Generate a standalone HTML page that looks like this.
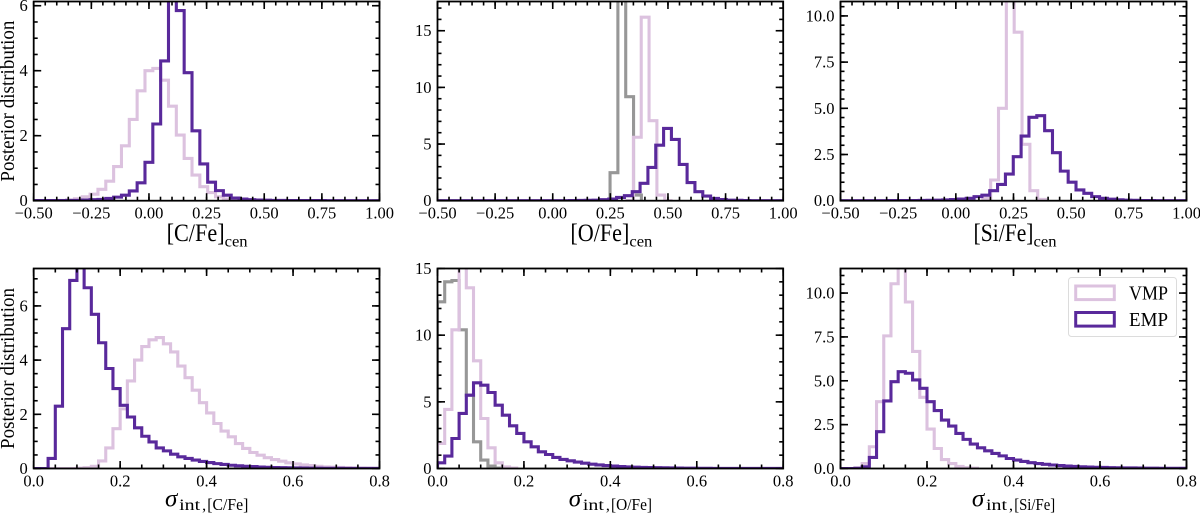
<!DOCTYPE html>
<html>
<head>
<meta charset="utf-8">
<title>Posterior distributions</title>
<style>
html,body{margin:0;padding:0;background:#fff;}
svg{display:block;filter:blur(0.35px);}
text{font-family:"Liberation Serif","DejaVu Serif",serif;fill:#000;}
</style>
</head>
<body>
<svg id="chart" xmlns="http://www.w3.org/2000/svg" width="1200" height="515" viewBox="0 0 1200 515"></svg>
<script>
// ---- tick values and labels ----
const cenXTicks = [-0.5, -0.25, 0, 0.25, 0.5, 0.75, 1.0];
const cenXLabels = ["\u22120.50", "\u22120.25", "0.00", "0.25", "0.50", "0.75", "1.00"];
const cenXMinorStep = 0.05;
const sigXTicks = [0, 0.2, 0.4, 0.6, 0.8];
const sigXLabels = ["0.0", "0.2", "0.4", "0.6", "0.8"];
const sigXMinorStep = 0.05;

// ---- histogram bins ----
const cenBinStart = -0.4933;
const cenBinWidth = 0.034;
const sigBinStart = 0;
const sigBinWidth = 0.016667;

// ---- [C/Fe]cen ----
const cCenVmp = [0,0,0,0.01,0.02,0.06,0.12,0.2,0.35,0.6,1.05,1.69,2.5,3.38,4.0,4.07,3.71,2.91,2.02,1.3,0.79,0.43,0.25,0.12,0.05,0.02,0.01];
const cCenEmp = [0.003,0.003,0.005,0.005,0.008,0.01,0.02,0.03,0.04,0.07,0.11,0.17,0.3,0.55,1.18,2.36,4.3,6.4,5.85,3.94,2.15,1.13,0.57,0.31,0.17,0.08,0.05,0.03,0.02,0.015,0.01,0.008,0.006,0.005,0.004,0.003,0.003,0.002,0.002,0.002,0.002,0.002,0.002,0.002];

// ---- [O/Fe]cen ----
const oCenGrayStart = 0.2487;
const oCenGray = [2.47,19,9.18,0.5];
const oCenVmpStart = 0.316;
const oCenVmp = [0,5.6,16.2,7.06,0.5,0];
const oCenEmpStart = -0.505;
const oCenEmp = [0.002,0.002,0.002,0.002,0.002,0.002,0.002,0.002,0.002,0.002,0.002,0.002,0.002,0.003,0.004,0.005,0.007,0.01,0.02,0.03,0.05,0.09,0.15,0.29,0.44,0.8,1.53,2.94,4.9,6.38,5.41,3.2,1.6,0.8,0.41,0.2,0.1,0.05,0.03,0.01,0.005,0.003,0.002,0.002,0.002];

// ---- [Si/Fe]cen ----
const siCenVmpStart = 0.117;
const siCenVmp = [0.12,1.12,5.0,11.8,9.12,3.05,0.54,0.07];
const siCenEmpStart = -0.499;
const siCenEmp = [0.002,0.002,0.003,0.003,0.004,0.004,0.005,0.006,0.008,0.01,0.015,0.02,0.03,0.04,0.06,0.09,0.13,0.22,0.3,0.54,0.88,1.44,2.38,3.5,4.51,4.6,3.79,2.6,1.6,1,0.58,0.4,0.22,0.13,0.08,0.05,0.03,0.02,0.01,0.005,0.004,0.003,0.003,0.002];

// ---- sigma [C/Fe] ----
const cSigVmp = [0,0,0,0,0,0,0.01,0.03,0.08,0.28,0.76,1.47,2.2,3.23,4.0,4.5,4.75,4.83,4.6,4.3,3.78,3.35,2.89,2.43,2.05,1.66,1.38,1.17,0.92,0.74,0.59,0.49,0.4,0.33,0.27,0.21,0.17,0.13,0.11,0.08,0.06,0.05,0.04,0.03,0.02,0.015,0.01,0.005];
const cSigEmp = [0,0,0.37,2.3,5.16,6.94,7.6,6.67,5.69,4.64,3.69,2.95,2.33,1.9,1.5,1.19,0.98,0.76,0.65,0.53,0.43,0.37,0.31,0.26,0.22,0.18,0.15,0.12,0.1,0.08,0.07,0.055,0.045,0.035,0.03,0.025,0.02,0.015,0.012,0.01,0.008,0.006,0.005,0.004,0.003,0.002,0.002,0.001];

// ---- sigma [O/Fe] ----
const oSigGray = [12.5,14,14.1,10.4,5.5,2,0.63,0.18,0.03];
const oSigVmp = [1.88,4.43,10.4,16.5,13.55,8.08,3.75,1.55,0.43,0.12,0.03];
const oSigEmp = [0.43,0.93,2.25,4.13,5.5,6.43,6.25,5.7,4.75,4.0,3.2,2.63,2.0,1.63,1.25,1.05,0.83,0.68,0.58,0.48,0.4,0.32,0.27,0.22,0.18,0.15,0.12,0.1,0.08,0.07,0.06,0.05,0.04,0.03,0.025,0.02,0.015,0.012,0.01,0.008,0.006,0.005,0.004,0.003,0.002,0.002,0.002,0.002];

// ---- sigma [Si/Fe] ----
const siSigVmp = [0,0,0.03,0.28,1.24,3.81,7.56,10.53,12.5,9.49,6.67,4.06,2.25,1.14,0.51,0.28,0.12,0.05,0.02];
const siSigEmp = [0,0,0.01,0.1,0.63,2.1,3.85,4.95,5.52,5.43,5.05,4.57,3.81,3.3,2.76,2.42,2.0,1.66,1.39,1.18,1.01,0.86,0.72,0.57,0.48,0.4,0.33,0.28,0.24,0.2,0.17,0.14,0.12,0.1,0.085,0.07,0.06,0.05,0.04,0.035,0.03,0.025,0.02,0.018,0.015,0.012,0.01,0.008];

// ---- y axis ticks ----
const cCenYTicks = [0,2,4,6];
const cCenYLabels = ["0","2","4","6"];
const oCenYTicks = [0,5,10,15];
const oCenYLabels = ["0","5","10","15"];
const siCenYTicks = [0,2.5,5,7.5,10];
const siCenYLabels = ["0.0","2.5","5.0","7.5","10.0"];
const cSigYTicks = [0,2,4,6];
const cSigYLabels = ["0","2","4","6"];
const oSigYTicks = [0,5,10,15];
const oSigYLabels = ["0","5","10","15"];
const siSigYTicks = [0,2.5,5,7.5,10];
const siSigYLabels = ["0.0","2.5","5.0","7.5","10.0"];

// ---- styling ----
const VMP_COLOR = "#dcc2df";
const EMP_COLOR = "#59299b";
const GRAY_COLOR = "#979797";
const LINE_W = 3.1;

const NS = "http://www.w3.org/2000/svg";
const svg = document.getElementById("chart");

function el(tag, attrs, parent) {
  const e = document.createElementNS(NS, tag);
  for (const k in attrs) e.setAttribute(k, attrs[k]);
  (parent || svg).appendChild(e);
  return e;
}

function addText(parent, str, x, y, size, anchor, extra) {
  const t = el("text", Object.assign({x: x, y: y, "font-size": size, "text-anchor": anchor || "start"}, extra || {}), parent);
  t.textContent = str;
  return t;
}

function drawPanel(cfg) {
  const L = cfg.left, R = cfg.right, T = cfg.top, B = cfg.bottom;
  const xScale = v => L + (v - cfg.xMin) / (cfg.xMax - cfg.xMin) * (R - L);
  const yScale = v => B - v / cfg.yMax * (B - T);

  const g = el("g", {});
  
  

  const clipId = "clip-" + cfg.name;
  const defs = el("defs", {}, g);
  const cp = el("clipPath", {id: clipId}, defs);
  el("rect", {x: L, y: T, width: R - L, height: B - T}, cp);

  const plot = el("g", {"clip-path": "url(#" + clipId + ")"}, g);
  
  

  cfg.series.forEach(s => {
    let d = "M" + xScale(s.start).toFixed(2) + " " + yScale(0).toFixed(2);
    s.values.forEach((v, i) => {
      const x0 = xScale(s.start + i * s.width);
      const x1 = xScale(s.start + (i + 1) * s.width);
      const y = yScale(v);
      d += "L" + x0.toFixed(2) + " " + y.toFixed(2) + "L" + x1.toFixed(2) + " " + y.toFixed(2);
    });
    d += "L" + xScale(s.start + s.values.length * s.width).toFixed(2) + " " + yScale(0).toFixed(2);
    const p = el("path", {d: d, fill: "none", stroke: s.color, "stroke-width": LINE_W, "stroke-linejoin": "miter"}, plot);
    
    
  });

  const ticks = el("g", {stroke: "#000"}, g);
  
  

  const MAJ = 7.5, MIN = 4, TW = 1.6;
  const vTick = (x, len) => {
    el("line", {x1: x, x2: x, y1: B, y2: B - len, "stroke-width": TW}, ticks);
    el("line", {x1: x, x2: x, y1: T, y2: T + len, "stroke-width": TW}, ticks);
  };
  const hTick = (y, len) => {
    el("line", {x1: L, x2: L + len, y1: y, y2: y, "stroke-width": TW}, ticks);
    el("line", {x1: R, x2: R - len, y1: y, y2: y, "stroke-width": TW}, ticks);
  };

  const nx = Math.round((cfg.xMax - cfg.xMin) / cfg.xMinor);
  for (let i = 0; i <= nx; i++) vTick(xScale(cfg.xMin + i * cfg.xMinor), MIN);
  const ny = Math.floor(cfg.yMax / cfg.yMinor + 1e-6);
  for (let i = 0; i <= ny; i++) hTick(yScale(i * cfg.yMinor), MIN);
  cfg.xTicks.forEach(v => vTick(xScale(v), MAJ));
  cfg.yTicks.forEach(v => hTick(yScale(v), MAJ));

  const frame = el("rect", {x: L, y: T, width: R - L, height: B - T, fill: "none", stroke: "#000", "stroke-width": 1.8}, g);
  
  

  cfg.xTicks.forEach((v, i) => {
    const t = addText(g, cfg.xLabels[i], xScale(v), B + 18, 16.5, "middle");
    
    
  });
  cfg.yTicks.forEach((v, i) => {
    const t = addText(g, cfg.yLabels[i], L - 6, yScale(v) + 5.5, 16.5, "end");
    
    
  });

  const cx = (L + R) / 2;
  if (cfg.cenLabel) {
    const a = addText(g, cfg.cenLabel, cx - 40, B + 40.5, 25, "start", {textLength: cfg.cenLen, lengthAdjust: "spacingAndGlyphs"});
    
    
    const s = addText(g, "cen", cx - 40 + cfg.cenLen, B + 46, 16, "start", {textLength: 23, lengthAdjust: "spacingAndGlyphs"});
    
    
  } else {
    const a = addText(g, "\u03C3", cx - 41.6, B + 38, 25, "start", {"font-style": "italic"});
    
    
    const s = addText(g, "int", cx - 27.5, B + 41.5, 16, "start", {textLength: 21, lengthAdjust: "spacingAndGlyphs"});
    
    
    const c = addText(g, ",", cx - 4.5, B + 41.5, 16, "start");
    
    
    const e = addText(g, cfg.sigLabel, cx + 0.7, B + 41.5, 17, "start", {textLength: 41, lengthAdjust: "spacingAndGlyphs"});
    
    
  }
  if (cfg.yTitle) {
    const my = (T + B) / 2;
    const t = addText(g, "Posterior distribution", 14, my, 20, "middle", {transform: "rotate(-90 14 " + my + ")", textLength: 161, lengthAdjust: "spacingAndGlyphs"});
    
    
  }
}

const COL_L = [33.7, 437.5, 840.5];
const COL_R = [379.5, 783.2, 1186.5];
const ROW_T = [1.5, 268.5];
const ROW_B = [200.7, 468.5];

function cenSeries(name, color, start, values) { return {name: name, color: color, start: start, width: cenBinWidth, values: values}; }
function sigSeries(name, color, values) { return {name: name, color: color, start: sigBinStart, width: sigBinWidth, values: values}; }

function cenPanel(col, name, yMax, yMinor, yTicks, yLabels, label, len, series) {
  drawPanel({name: name, left: COL_L[col], right: COL_R[col], top: ROW_T[0], bottom: ROW_B[0],
    xMin: -0.5, xMax: 1.0, xMinor: cenXMinorStep, xTicks: cenXTicks, xLabels: cenXLabels,
    yMax: yMax, yMinor: yMinor, yTicks: yTicks, yLabels: yLabels, cenLabel: label, cenLen: len, yTitle: col === 0, series: series});
}
function sigPanel(col, name, yMax, yMinor, yTicks, yLabels, label, series) {
  drawPanel({name: name, left: COL_L[col], right: COL_R[col], top: ROW_T[1], bottom: ROW_B[1],
    xMin: 0, xMax: 0.8, xMinor: sigXMinorStep, xTicks: sigXTicks, xLabels: sigXLabels,
    yMax: yMax, yMinor: yMinor, yTicks: yTicks, yLabels: yLabels, sigLabel: label, yTitle: col === 0, series: series});
}

cenPanel(0, "panel-c-fe-cen", 6.13, 0.5, cCenYTicks, cCenYLabels, "[C/Fe]", 58, [
  cenSeries("vmp-histogram", VMP_COLOR, cenBinStart, cCenVmp),
  cenSeries("emp-histogram", EMP_COLOR, cenBinStart, cCenEmp)
]);
cenPanel(1, "panel-o-fe-cen", 17.58, 1, oCenYTicks, oCenYLabels, "[O/Fe]", 59, [
  cenSeries("gray-histogram", GRAY_COLOR, oCenGrayStart, oCenGray),
  cenSeries("vmp-histogram", VMP_COLOR, oCenVmpStart, oCenVmp),
  cenSeries("emp-histogram", EMP_COLOR, oCenEmpStart, oCenEmp)
]);
cenPanel(2, "panel-si-fe-cen", 10.78, 0.5, siCenYTicks, siCenYLabels, "[Si/Fe]", 60, [
  cenSeries("vmp-histogram", VMP_COLOR, siCenVmpStart, siCenVmp),
  cenSeries("emp-histogram", EMP_COLOR, siCenEmpStart, siCenEmp)
]);
sigPanel(0, "panel-sigma-c-fe", 7.38, 0.5, cSigYTicks, cSigYLabels, "[C/Fe]", [
  sigSeries("vmp-histogram", VMP_COLOR, cSigVmp),
  sigSeries("emp-histogram", EMP_COLOR, cSigEmp)
]);
sigPanel(1, "panel-sigma-o-fe", 15, 1, oSigYTicks, oSigYLabels, "[O/Fe]", [
  sigSeries("gray-histogram", GRAY_COLOR, oSigGray),
  sigSeries("vmp-histogram", VMP_COLOR, oSigVmp),
  sigSeries("emp-histogram", EMP_COLOR, oSigEmp)
]);
sigPanel(2, "panel-sigma-si-fe", 11.4, 0.5, siSigYTicks, siSigYLabels, "[Si/Fe]", [
  sigSeries("vmp-histogram", VMP_COLOR, siSigVmp),
  sigSeries("emp-histogram", EMP_COLOR, siSigEmp)
]);

// legend
const legend = el("g", {});


el("rect", {x: 1068.5, y: 277.5, width: 108, height: 59, rx: 3, fill: "#fff", "fill-opacity": 0.9, stroke: "#dcdcdc", "stroke-width": 1}, legend);
const h1 = el("rect", {x: 1075.7, y: 286, width: 38.6, height: 13.6, fill: "none", stroke: VMP_COLOR, "stroke-width": 3}, legend);


const h2 = el("rect", {x: 1075.7, y: 312.5, width: 38.6, height: 13.6, fill: "none", stroke: EMP_COLOR, "stroke-width": 3}, legend);


const l1 = addText(legend, "VMP", 1129, 299.5, 20, "start", {textLength: 39, lengthAdjust: "spacingAndGlyphs"});


const l2 = addText(legend, "EMP", 1129, 326, 20, "start", {textLength: 39, lengthAdjust: "spacingAndGlyphs"});


</script>
</body>
</html>
